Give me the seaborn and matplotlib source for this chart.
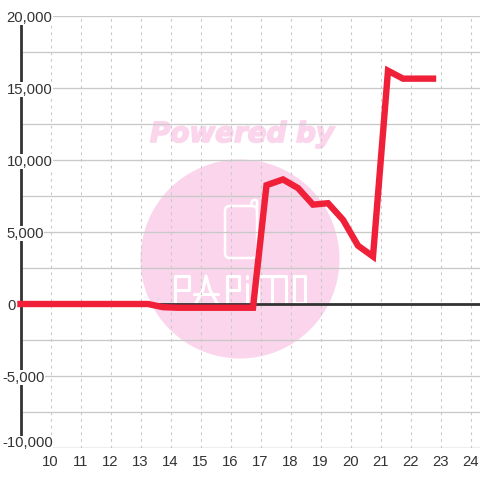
import numpy as np
import pandas as pd
import seaborn as sns
import matplotlib
matplotlib.use("Agg")
import matplotlib.pyplot as plt
import matplotlib.patheffects as pe
from matplotlib.patches import Circle, FancyBboxPatch

horas = [9.0, 9.75, 10.25, 10.75, 11.25, 11.75, 12.25, 12.75, 13.25, 13.75, 14.25, 14.75, 15.25, 15.75, 16.25, 16.75,
         17.2, 17.75, 18.25, 18.75, 19.25, 19.75, 20.25, 20.75, 21.25, 21.75, 22.25, 22.75]
valores = [0, 0, 0, 0, 0, 0, 0, 0, 0, -220, -260, -260, -260, -260, -260, -260,
           8250, 8650, 8050, 6900, 7000, 5850, 4050, 3300, 16200, 15650, 15650, 15650]
x_ticks = list(range(10, 25))
y_major = [20000, 15000, 10000, 5000, 0, -5000, -10000]
y_labels = ["20,000", "15,000", "10,000", "5,000", "0", "-5,000", "-10,000"]
y_grid = [17500, 12500, 7500, 2500, -2500, -7500]

sns.set_theme(style="white")
plt.rcParams["font.family"] = ["Liberation Sans", "DejaVu Sans"]

df = pd.DataFrame({"hora": horas, "valor": valores})

fig = plt.figure(figsize=(4.8, 4.8), dpi=100)
ax = fig.add_axes([20.5 / 480, 1 - 448 / 480, 1 - 20.5 / 480, 432 / 480])

# marca d'agua
wm = fig.add_axes([0, 0, 1, 1], zorder=-1)
wm.set_xlim(0, 480)
wm.set_ylim(480, 0)
wm.axis("off")
rosa = "#fbd5ec"
wm.add_patch(Circle((240, 259), 99.5, color=rosa, lw=0))
wm.text(242, 134, "Powered by", color=rosa, fontsize=20, fontweight="bold", fontstyle="italic",
        family="DejaVu Sans", ha="center", va="center",
        path_effects=[pe.withStroke(linewidth=1.2, foreground=rosa)])
wm.add_patch(FancyBboxPatch((225, 206), 32, 52, boxstyle="round,pad=0,rounding_size=5",
                            fc="none", ec="white", lw=1.8))
wm.plot([251, 252, 254, 256, 257, 257], [206, 201, 200, 200, 201, 210], color="white", lw=1.8)

# letras do logo, tracadas a mao
letras = [
    ([175, 175, 189, 189, 175], [303, 276, 276, 290, 290]),
    ([196, 203, 206, 210, 217], [303, 290, 276, 290, 303]),
    ([194, 218], [294, 294]),
    ([227, 227, 239, 239, 227], [303, 276, 276, 290, 290]),
    ([247, 247], [303, 284]),
    ([247, 247], [278, 276]),
    ([258, 258, 286, 286], [303, 276, 276, 303]),
    ([272, 272], [276, 303]),
    ([294, 294, 305, 305, 294], [276, 303, 303, 276, 276]),
]
for lx, ly in letras:
    wm.plot(lx, ly, color="white", lw=2.2, solid_capstyle="round")
wm.set_xlim(0, 480)
wm.set_ylim(480, 0)
ax.patch.set_alpha(0)

sns.lineplot(data=df, x="hora", y="valor", ax=ax, color="#f02039", linewidth=4.6, errorbar=None,
             solid_capstyle="projecting", solid_joinstyle="miter", zorder=5, clip_on=False)

ax.set_xlim(9, 9 + 459.5 / 30)
ax.set_ylim(-10000, 20000)
ax.set_xticks(x_ticks)
ax.set_yticks(y_major)
ax.set_yticks(y_grid, minor=True)
ax.set_xlabel("")
ax.set_ylabel("")
ax.set_yticklabels([])
ax.tick_params(axis="both", which="both", length=0)
ax.tick_params(axis="x", labelsize=10.7, labelcolor="#333333", pad=5)

ax.grid(True, axis="y", which="both", color="#c9c9c9", lw=0.95)
ax.grid(True, axis="x", which="major", color="#c9c9c9", lw=0.8, ls=(0, (2.5, 3.5)))
ax.set_axisbelow(True)

for lado in ["top", "right", "bottom"]:
    ax.spines[lado].set_visible(False)
ax.spines["left"].set_color("#333333")
ax.spines["left"].set_linewidth(2.0)
ax.axhline(0, color="#333333", lw=2.0, zorder=3)
ax.axhline(-10000, color="#c9c9c9", lw=0.95, zorder=1)

# rotulos do eixo y com fundo branco por cima do eixo
for v, t in zip(y_major, y_labels):
    x_px = 2 if v < 0 else 6.5
    if v == 0:
        x_px = 7.5
    dy = 6.5 if v == -10000 else 0
    y_px = 480 - (448 - (v + 10000) / 30000 * 432) + dy
    ax.annotate(t, xy=(x_px, y_px), xycoords="figure pixels", ha="left", va="center_baseline",
                fontsize=10.7, color="#333333", zorder=4, annotation_clip=False,
                bbox=dict(fc="white", ec="none", pad=0.3))

fig.savefig("out.png", dpi=100)
